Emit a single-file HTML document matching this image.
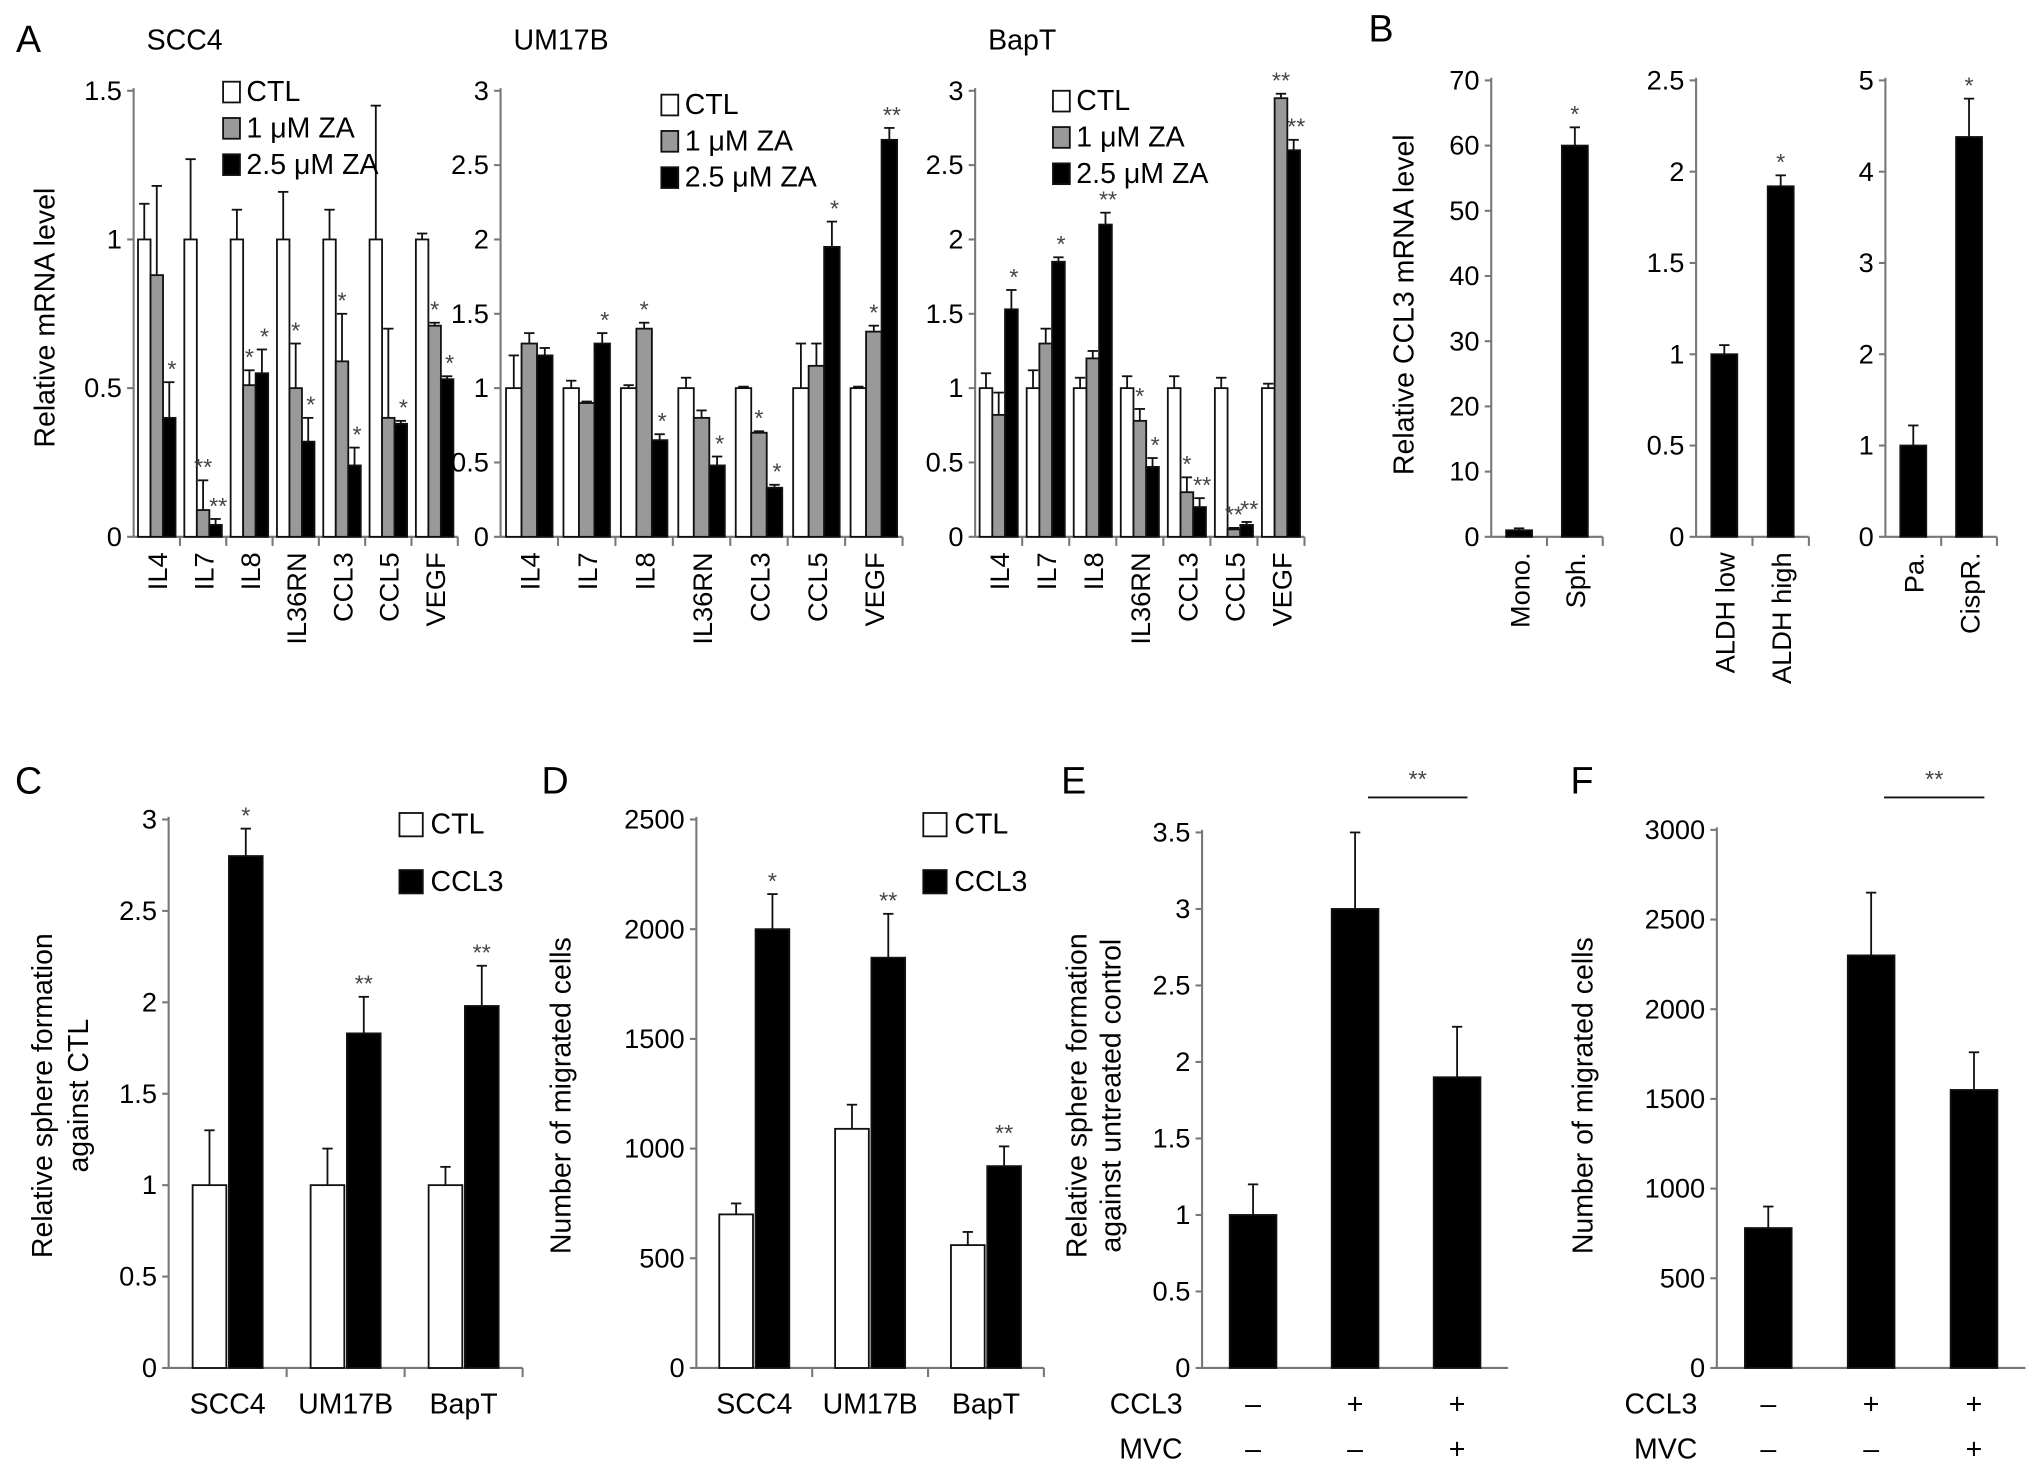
<!DOCTYPE html>
<html><head><meta charset="utf-8"><style>
html,body{margin:0;padding:0;background:#fff;}
svg{display:block;font-family:"Liberation Sans",sans-serif;}
</style></head><body>
<svg id="fig" width="2032" height="1473" viewBox="0 0 1567 1136"></svg>
<script>
const NS="http://www.w3.org/2000/svg";
const svg=document.getElementById('fig');
// ---- data ----
const catsA=["IL4","IL7","IL8","IL36RN","CCL3","CCL5","VEGF"];
const scc4Ctl=[1,1,1,1,1,1,1];
const scc4Za1=[0.88,0.09,0.51,0.5,0.59,0.4,0.71];
const scc4Za25=[0.4,0.04,0.55,0.32,0.24,0.38,0.53];
const scc4ErrCtl=[0.12,0.27,0.1,0.16,0.1,0.45,0.02];
const scc4ErrZa1=[0.3,0.1,0.05,0.15,0.16,0.3,0.01];
const scc4ErrZa25=[0.12,0.02,0.08,0.08,0.06,0.01,0.01];
const scc4Sig1=["","**","*","*","*","","*"];
const scc4Sig25=["*","**","*","*","*","*","*"];
const umCtl=[1,1,1,1,1,1,1];
const umZa1=[1.3,0.9,1.4,0.8,0.7,1.15,1.38];
const umZa25=[1.22,1.3,0.65,0.48,0.33,1.95,2.67];
const umErrCtl=[0.22,0.05,0.02,0.07,0.01,0.3,0.01];
const umErrZa1=[0.07,0.01,0.04,0.05,0.01,0.15,0.04];
const umErrZa25=[0.05,0.07,0.04,0.06,0.02,0.17,0.08];
const umSig1=["","","*","","*","","*"];
const umSig25=["","*","*","*","*","*","**"];
const bapCtl=[1,1,1,1,1,1,1];
const bapZa1=[0.82,1.3,1.2,0.78,0.3,0.05,2.95];
const bapZa25=[1.53,1.85,2.1,0.47,0.2,0.08,2.6];
const bapErrCtl=[0.1,0.12,0.07,0.08,0.08,0.07,0.03];
const bapErrZa1=[0.15,0.1,0.05,0.08,0.1,0.01,0.03];
const bapErrZa25=[0.13,0.03,0.08,0.06,0.06,0.02,0.07];
const bapSig1=["","","","*","*","**","**"];
const bapSig25=["*","*","**","*","**","**","**"];
const bCats1=["Mono.","Sph."], bVals1=[1,60], bErr1=[0.3,2.8];
const bCats2=["ALDH low","ALDH high"], bVals2=[1,1.92], bErr2=[0.05,0.06];
const bCats3=["Pa.","CispR."], bVals3=[1,4.38], bErr3=[0.22,0.42];
const cCats=["SCC4","UM17B","BapT"], cCtl=[1,1,1], cCcl3=[2.8,1.83,1.98], cErrCtl=[0.3,0.2,0.1], cErrCcl3=[0.15,0.2,0.22], cSig=["*","**","**"];
const dCats=["SCC4","UM17B","BapT"], dCtl=[700,1090,560], dCcl3=[2000,1870,920], dErrCtl=[50,110,60], dErrCcl3=[160,200,90], dSig=["*","**","**"];
const eVals=[1,3,1.9], eErr=[0.2,0.5,0.33];
const fVals=[780,2300,1550], fErr=[120,350,210];
// ---- helpers ----
function el(tag,attrs,parent,text){const e=document.createElementNS(NS,tag);for(const k in attrs)e.setAttribute(k,attrs[k]);if(text!==undefined)e.textContent=text;(parent||svg).appendChild(e);return e;}
function txt(x,y,s,size,anchor,parent,rot,name){const t=el('text',{x:x,y:y,'font-size':size,'text-anchor':anchor||'middle',fill:'#000'},parent,s);if(rot)t.setAttribute('transform',`rotate(${rot} ${x} ${y})`);

return t;}
function axis(g,x0,x1,y0,y1,max,ticks,fmt){
  const sc=v=>y0-(v/max)*(y0-y1);
  el('line',{x1:x0,y1:y0,x2:x0,y2:y1-2,stroke:'#777','stroke-width':1.6},g);
  el('line',{x1:x0,y1:y0,x2:x1,y2:y0,stroke:'#777','stroke-width':1.6},g);
  ticks.forEach(t=>{const y=sc(t);el('line',{x1:x0-5,y1:y,x2:x0,y2:y,stroke:'#777','stroke-width':1.6},g);
    txt(x0-9,y+7,fmt?fmt(t):String(t),21,'end',g,0,'y-tick-label');});
  return sc;}
function bar(g,cx,w,v,err,sc,fill,name){
  const y=sc(v),y0=sc(0);
  const r=el('rect',{x:cx-w/2,y:y,width:w,height:y0-y,fill:fill,stroke:'#111','stroke-width':1.4},g);
  
  
  if(err>0){const ye=sc(v+err);el('line',{x1:cx,y1:y,x2:cx,y2:ye,stroke:'#111','stroke-width':1.4},g);el('line',{x1:cx-4,y1:ye,x2:cx+4,y2:ye,stroke:'#111','stroke-width':1.4},g);}
  return sc(v+err);}
function star(g,x,y,s){if(s)txt(x,y-4,s,18,'middle',g,0,'significance-mark').setAttribute('fill','#444');}
// ---- Panel A ----
function panelA(title,ax,axEnd,max,ticks,ctl,z1,z25,ec,e1,e25,s1,s25,leg,name){
  const g=el('g',{});
  txt(ax+10,38,title,22,'start',g,0,'panel-title');
  const sc=axis(g,ax,axEnd,414,70,max,ticks);
  const gw=(axEnd-ax)/catsA.length, bw=gw*0.27;
  catsA.forEach((c,i)=>{const cx=ax+gw*(i+0.5);
    bar(g,cx-bw,bw,ctl[i],ec[i],sc,'#fff','bar-ctl-'+c);
    const y1=bar(g,cx,bw,z1[i],e1[i],sc,'#999','bar-1uM-'+c);
    const y2=bar(g,cx+bw,bw,z25[i],e25[i],sc,'#000','bar-2.5uM-'+c);
    star(g,cx,y1,s1[i]);star(g,cx+bw+2,y2,s25[i]);
    el('line',{x1:ax+gw*(i+1),y1:414,x2:ax+gw*(i+1),y2:421,stroke:'#777','stroke-width':1.6},g);
    txt(cx+8,426,c,21,'end',g,-90,'x-tick-label');});
  const labs=["CTL","1 μM ZA","2.5 μM ZA"],fills=['#fff','#999','#000'];
  labs.forEach((l,i)=>{const ly=leg[1]+i*28;
    const r=el('rect',{x:leg[0],y:ly-15,width:13,height:16,fill:fills[i],stroke:'#111','stroke-width':1.4},g);
    
    txt(leg[0]+18,ly,l,22,'start',g,0,'legend-entry');});
}
txt(22,40,"A",29,'middle',svg,0,'panel-letter-a');
txt(42,245,"Relative mRNA level",22,'middle',svg,-90,'y-axis-title-a');
panelA("SCC4",103,353,1.5,[0,0.5,1,1.5],scc4Ctl,scc4Za1,scc4Za25,scc4ErrCtl,scc4ErrZa1,scc4ErrZa25,scc4Sig1,scc4Sig25,[172,78],'panel-a-scc4');
panelA("UM17B",386,696,3,[0,0.5,1,1.5,2,2.5,3],umCtl,umZa1,umZa25,umErrCtl,umErrZa1,umErrZa25,umSig1,umSig25,[510,88],'panel-a-um17b');
panelA("BapT",752,1006,3,[0,0.5,1,1.5,2,2.5,3],bapCtl,bapZa1,bapZa25,bapErrCtl,bapErrZa1,bapErrZa25,bapSig1,bapSig25,[812,85],'panel-a-bapt');
// ---- Panel B ----
txt(1065,32,"B",29,'middle',svg,0,'panel-letter-b');
txt(1090,235,"Relative CCL3 mRNA level",22,'middle',svg,-90,'y-axis-title-b');
function panelB(ax,axEnd,max,ticks,cats,vals,errs,name){
  const g=el('g',{});
  const sc=axis(g,ax,axEnd,414,62,max,ticks);
  const gw=(axEnd-ax)/cats.length;
  cats.forEach((c,i)=>{const cx=ax+gw*(i+0.5);const y=bar(g,cx,20,vals[i],errs[i],sc,'#000','bar-'+c);
    if(i==1)star(g,cx,y,"*");
    el('line',{x1:ax+gw*(i+1),y1:414,x2:ax+gw*(i+1),y2:421,stroke:'#777','stroke-width':1.6},g);
    txt(cx+8,426,c,21,'end',g,-90,'x-tick-label');});
}
panelB(1150,1236,70,[0,10,20,30,40,50,60,70],bCats1,bVals1,bErr1,'panel-b-sphere');
panelB(1308,1395,2.5,[0,0.5,1,1.5,2,2.5],bCats2,bVals2,bErr2,'panel-b-aldh');
panelB(1454,1540,5,[0,1,2,3,4,5],bCats3,bVals3,bErr3,'panel-b-cisplatin');
// ---- Panels C, D ----
function panelCD(ax,axEnd,max,ticks,cats,ctl,ccl,ec,ecc,sig,legX,name){
  const g=el('g',{});
  const sc=axis(g,ax,axEnd,1055,632,max,ticks);
  const gw=(axEnd-ax)/cats.length;
  cats.forEach((c,i)=>{const cx=ax+gw*(i+0.5);
    bar(g,cx-14,26,ctl[i],ec[i],sc,'#fff','bar-ctl-'+c);
    const y=bar(g,cx+14,26,ccl[i],ecc[i],sc,'#000','bar-ccl3-'+c);
    star(g,cx+14,y,sig[i]);
    el('line',{x1:ax+gw*(i+1),y1:1055,x2:ax+gw*(i+1),y2:1062,stroke:'#777','stroke-width':1.6},g);
    txt(cx,1090,c,22,'middle',g,0,'x-tick-label');});
  [["CTL",'#fff'],["CCL3",'#000']].forEach((l,i)=>{const ly=643+i*44;
    const r=el('rect',{x:legX,y:ly-16,width:18,height:18,fill:l[1],stroke:'#111','stroke-width':1.4},g);
    
    txt(legX+24,ly,l[0],22,'start',g,0,'legend-entry');});
}
txt(22,612,"C",29,'middle',svg,0,'panel-letter-c');
txt(40,845,"Relative sphere formation",22,'middle',svg,-90,'y-axis-title-c1');
txt(68,845,"against CTL",22,'middle',svg,-90,'y-axis-title-c2');
panelCD(130,403,3,[0,0.5,1,1.5,2,2.5,3],cCats,cCtl,cCcl3,cErrCtl,cErrCcl3,cSig,308,'panel-c');
txt(428,612,"D",29,'middle',svg,0,'panel-letter-d');
txt(440,845,"Number of migrated cells",22,'middle',svg,-90,'y-axis-title-d');
panelCD(537,805,2500,[0,500,1000,1500,2000,2500],dCats,dCtl,dCcl3,dErrCtl,dErrCcl3,dSig,712,'panel-d');
// ---- Panels E, F ----
function panelEF(ax,axEnd,max,ticks,vals,errs,top,name){
  const g=el('g',{});
  const sc=axis(g,ax,axEnd,1055,top,max,ticks);
  const gw=(axEnd-ax)/vals.length;const cx=[];
  vals.forEach((v,i)=>{const c=ax+gw*(i+0.5);cx.push(c);bar(g,c,36,v,errs[i],sc,'#000','bar-'+i);});
  el('line',{x1:cx[1]+10,y1:615,x2:cx[2]+8,y2:615,stroke:'#111','stroke-width':1.5},g);
  star(g,(cx[1]+cx[2])/2+9,611,"**");
  const r1=["–","+","+"],r2=["–","–","+"];
  txt(ax-15,1090,"CCL3",22,'end',g,0,'row-label-ccl3');
  txt(ax-15,1125,"MVC",22,'end',g,0,'row-label-mvc');
  cx.forEach((c,i)=>{txt(c,1090,r1[i],22,'middle',g,0,'ccl3-sign');txt(c,1125,r2[i],22,'middle',g,0,'mvc-sign');});
}
txt(828,612,"E",29,'middle',svg,0,'panel-letter-e');
txt(838,845,"Relative sphere formation",22,'middle',svg,-90,'y-axis-title-e1');
txt(864,845,"against untreated control",22,'middle',svg,-90,'y-axis-title-e2');
panelEF(927,1163,3.5,[0,0.5,1,1.5,2,2.5,3,3.5],eVals,eErr,642,'panel-e');
txt(1220,612,"F",29,'middle',svg,0,'panel-letter-f');
txt(1228,845,"Number of migrated cells",22,'middle',svg,-90,'y-axis-title-f');
panelEF(1324,1562,3000,[0,500,1000,1500,2000,2500,3000],fVals,fErr,640,'panel-f');
</script>
</body></html>
